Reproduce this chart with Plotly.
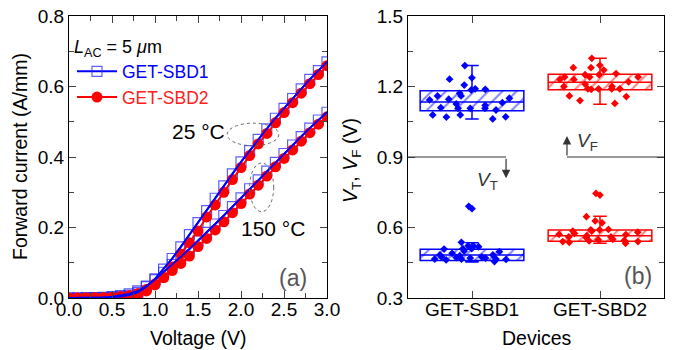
import plotly.graph_objects as go

# ---------------- data ----------------
voltage = [round(0.1 * i, 1) for i in range(31)]

sbd1_25c = [0.000, 0.000, 0.000, 0.001, 0.001, 0.002, 0.004, 0.008, 0.016, 0.032, 0.054,
            0.082, 0.112, 0.145, 0.180, 0.214, 0.248, 0.283, 0.318, 0.352, 0.386,
            0.418, 0.450, 0.480, 0.510, 0.538, 0.566, 0.593, 0.620, 0.645, 0.670]
sbd2_25c = [0.000, 0.000, 0.000, 0.000, 0.001, 0.001, 0.002, 0.004, 0.009, 0.020, 0.037,
            0.058, 0.088, 0.125, 0.157, 0.190, 0.230, 0.264, 0.300, 0.336, 0.370,
            0.404, 0.437, 0.467, 0.497, 0.526, 0.554, 0.581, 0.608, 0.634, 0.659]
sbd1_150c = [0.000, 0.000, 0.001, 0.001, 0.002, 0.004, 0.007, 0.012, 0.020, 0.034, 0.052,
             0.073, 0.095, 0.117, 0.139, 0.162, 0.186, 0.210, 0.234, 0.259, 0.284,
             0.310, 0.335, 0.360, 0.385, 0.410, 0.434, 0.458, 0.482, 0.505, 0.527]
sbd2_150c = [0.000, 0.000, 0.000, 0.001, 0.001, 0.002, 0.004, 0.007, 0.013, 0.024, 0.040,
             0.058, 0.078, 0.098, 0.119, 0.146, 0.169, 0.193, 0.216, 0.242, 0.268,
             0.295, 0.320, 0.346, 0.372, 0.396, 0.420, 0.445, 0.469, 0.493, 0.514]

devices = ["GET-SBD1", "GET-SBD2"]

vf_sbd1 = [1.110, 1.190, 1.160, 1.150, 1.107, 1.079, 1.062, 1.231, 1.131, 1.289, 1.206, 1.188, 1.143,
           1.107, 1.079, 1.070, 1.237, 1.126, 1.185, 1.171, 1.146, 1.107, 1.071, 1.100, 1.160, 1.120]
vf_sbd2 = [1.190, 1.250, 1.188, 1.255, 1.220, 1.280, 1.270, 1.200, 1.190, 1.160, 1.320, 1.240, 1.230,
           1.290, 1.280, 1.240, 1.210, 1.190, 1.140, 1.240, 1.230, 1.190, 1.250, 1.200, 1.128, 1.157]
vt_sbd1 = [0.680, 0.690, 0.470, 0.475, 0.500, 0.466, 0.522, 0.480, 0.537, 0.510, 0.464, 0.455, 0.518,
           0.483, 0.510, 0.466, 0.466, 0.470, 0.490, 0.497, 0.508, 0.472, 0.462, 0.521, 0.483, 0.475]
vt_sbd2 = [0.738, 0.745, 0.628, 0.620, 0.646, 0.592, 0.590, 0.585, 0.580, 0.557, 0.571, 0.540, 0.545,
           0.537, 0.540, 0.543, 0.560, 0.575, 0.565, 0.585, 0.550, 0.570, 0.533, 0.590, 0.560, 0.548]

# box statistics: [V_F, V_T]
sbd1_q1 = [1.097, 0.460]
sbd1_med = [1.134, 0.483]
sbd1_q3 = [1.182, 0.507]
sbd1_lo = [1.062, 0.453]
sbd1_hi = [1.289, 0.535]
sbd2_q1 = [1.186, 0.541]
sbd2_med = [1.218, 0.565]
sbd2_q3 = [1.252, 0.589]
sbd2_lo = [1.125, 0.533]
sbd2_hi = [1.320, 0.648]

# ---------------- style ----------------
BLUE = "#0000ff"
RED = "#ff0000"
FONT = "Arial, Liberation Sans, sans-serif"
BOXW = 0.81

fig = go.Figure()

# ---- panel (a) ----
for ys, show in [(sbd1_25c, True), (sbd1_150c, False)]:
    fig.add_trace(go.Scatter(
        x=voltage, y=ys, mode="lines+markers", xaxis="x", yaxis="y",
        name='<span style="color:#0000ff">GET-SBD1</span>', legendgroup="sbd1", showlegend=show,
        line=dict(color=BLUE, width=2),
        marker=dict(symbol="square-open", size=10, color="rgba(40,40,255,0.75)", line=dict(width=1.2))))
for ys, show in [(sbd2_25c, True), (sbd2_150c, False)]:
    fig.add_trace(go.Scatter(
        x=voltage, y=ys, mode="lines+markers", xaxis="x", yaxis="y",
        name='<span style="color:#ff2020">GET-SBD2</span>', legendgroup="sbd2", showlegend=show,
        line=dict(color=RED, width=2),
        marker=dict(symbol="circle", size=11, color=RED)))
for ys in [sbd1_25c, sbd1_150c]:
    fig.add_trace(go.Scatter(x=voltage, y=ys, mode="lines", xaxis="x", yaxis="y",
                             showlegend=False, hoverinfo="skip",
                             line=dict(color=BLUE, width=1.8)))

# ---- panel (b) ----
# hatched box fills
for dev, q1, q3, col in [(devices[0], sbd1_q1, sbd1_q3, BLUE), (devices[1], sbd2_q1, sbd2_q3, RED)]:
    fig.add_trace(go.Bar(
        x=[dev, dev], base=q1, y=[b - a for a, b in zip(q1, q3)], width=BOXW,
        xaxis="x2", yaxis="y2", showlegend=False, hoverinfo="skip",
        marker=dict(color="white", line=dict(width=0),
                    pattern=dict(shape="/", fgcolor=col, bgcolor="white", size=10, solidity=0.2))))

# box outlines, medians, whiskers
for dev, q1, med, q3, lo, hi, col in [
        (devices[0], sbd1_q1, sbd1_med, sbd1_q3, sbd1_lo, sbd1_hi, BLUE),
        (devices[1], sbd2_q1, sbd2_med, sbd2_q3, sbd2_lo, sbd2_hi, RED)]:
    fig.add_trace(go.Box(
        x=[dev, dev], q1=q1, median=med, q3=q3, lowerfence=lo, upperfence=hi,
        xaxis="x2", yaxis="y2", width=BOXW, whiskerwidth=0.13, showlegend=False,
        fillcolor="rgba(0,0,0,0)", line=dict(color=col, width=1.5), boxpoints=False))

# sample points
for dev, vals, col in [(devices[0], vf_sbd1, BLUE), (devices[0], vt_sbd1, BLUE),
                       (devices[1], vf_sbd2, RED), (devices[1], vt_sbd2, RED)]:
    fig.add_trace(go.Box(
        x=[dev] * len(vals), y=vals, xaxis="x2", yaxis="y2", width=BOXW,
        boxpoints="all", jitter=0.95, pointpos=0, showlegend=False,
        fillcolor="rgba(0,0,0,0)", line=dict(color="rgba(0,0,0,0)", width=0),
        marker=dict(symbol="diamond", size=6, color=col)))

axis_common = dict(showline=True, linecolor="black", linewidth=1.2, mirror="allticks",
                   ticks="inside", ticklen=7, tickwidth=1, tickcolor="#444",
                   showgrid=False, zeroline=False, automargin=False,
                   tickfont=dict(family=FONT, size=19, color="black"))

fig.update_layout(
    width=677, height=350, margin=dict(l=0, r=0, t=0, b=0, autoexpand=False),
    paper_bgcolor="white", plot_bgcolor="white",
    font=dict(family=FONT, color="black"),
    barmode="overlay", boxmode="overlay",
    xaxis=dict(domain=[69 / 677, 327 / 677], range=[0, 3], dtick=0.5, tickformat=".1f",
               minor=dict(dtick=0.25, ticks="inside", ticklen=5, tickcolor="#444"),
               ticklabelstandoff=-6, anchor="y", **axis_common),
    yaxis=dict(domain=[1 - 298 / 350, 1 - 16 / 350], range=[0, 0.8], dtick=0.2, tickformat=".1f",
               minor=dict(dtick=0.1, ticks="inside", ticklen=5, tickcolor="#444"),
               anchor="x", **axis_common),
    xaxis2=dict(domain=[408 / 677, 664 / 677], type="category", range=[-0.5, 1.5],
                categoryorder="array", categoryarray=devices, ticklabelstandoff=-6,
                anchor="y2", **axis_common),
    yaxis2=dict(domain=[1 - 298 / 350, 1 - 16 / 350], range=[0.3, 1.5], dtick=0.3, tickformat=".1f",
                minor=dict(dtick=0.15, ticks="inside", ticklen=5, tickcolor="#444"),
                anchor="x2", **axis_common),
    legend=dict(x=72 / 677, y=1 - 30 / 350, xanchor="left", yanchor="top",
                bgcolor="rgba(0,0,0,0)", font=dict(family=FONT, size=17.5),
                title=dict(text="<i>L</i><sub>AC</sub> = 5 <i>μ</i>m", font=dict(family=FONT, size=18)),
                itemwidth=40, tracegroupgap=0),
)

shapes = [
    dict(type="circle", xref="x", yref="y", x0=1.84, x1=2.44, y0=0.432, y1=0.496,
         line=dict(color="#666", width=1, dash="dot")),
    dict(type="circle", xref="x", yref="y", x0=2.10, x1=2.38, y0=0.245, y1=0.383,
         line=dict(color="#666", width=1, dash="dot")),
    dict(type="line", xref="x2 domain", yref="y2", x0=0, x1=0.383, y0=0.9, y1=0.9,
         line=dict(color="#333", width=1.2)),
    dict(type="line", xref="x2 domain", yref="y2", x0=0.621, x1=1, y0=0.9, y1=0.9,
         line=dict(color="#333", width=1.2)),
]
fig.update_layout(shapes=shapes)


def txt(text, x, y, xref, yref, size, color="black", angle=0):
    return dict(text=text, x=x, y=y, xref=xref, yref=yref, showarrow=False,
                xanchor="center", yanchor="middle", textangle=angle,
                font=dict(size=size, family=FONT, color=color))


ann = [
    txt("25 °C", 1.51, 0.471, "x", "y", 21),
    txt("150 °C", 2.37, 0.196, "x", "y", 21),
    txt("(a)", 2.6, 0.058, "x", "y", 23, "#555"),
    txt("(b)", 0.898, 0.395, "x2 domain", "y2", 23, "#555"),
    txt("<i>V</i><sub>T</sub>", 0.309, 0.80, "x2 domain", "y2", 19, "#333"),
    txt("<i>V</i><sub>F</sub>", 0.70, 0.965, "x2 domain", "y2", 19, "#333"),
    dict(text="", x=0.383, y=0.81, xref="x2 domain", yref="y2", showarrow=True,
         ax=0, ay=-21, arrowhead=2, arrowsize=1.4, arrowwidth=1.2, arrowcolor="#333", standoff=0),
    dict(text="", x=0.621, y=0.989, xref="x2 domain", yref="y2", showarrow=True,
         ax=0, ay=21, arrowhead=2, arrowsize=1.4, arrowwidth=1.2, arrowcolor="#333", standoff=0),
    txt("Voltage (V)", 198 / 677, 1 - 338 / 350, "paper", "paper", 19.5),
    txt("Devices", 537 / 677, 1 - 338 / 350, "paper", "paper", 19.5),
    txt("Forward current (A/mm)", 20 / 677, 1 - 157 / 350, "paper", "paper", 19.5, angle=-90),
    txt("<i>V</i><sub>T</sub>, <i>V</i><sub>F</sub> (V)", 352 / 677, 1 - 160 / 350, "paper", "paper",
        19.5, angle=-90),
]
fig.update_layout(annotations=ann)

fig.write_html("out.html", config={"displayModeBar": False},
               post_script="document.body.style.margin='0';")
